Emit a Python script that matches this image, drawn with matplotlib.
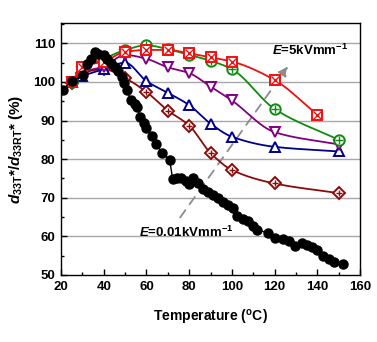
import numpy as np
import matplotlib
matplotlib.use("Agg")
import matplotlib.pyplot as plt
from matplotlib.ticker import MultipleLocator

plt.rcParams['font.family'] = ['Liberation Sans', 'DejaVu Sans']
plt.rcParams['font.weight'] = 'bold'
plt.rcParams['mathtext.fontset'] = 'custom'
plt.rcParams['mathtext.rm'] = 'Liberation Sans:bold'
plt.rcParams['mathtext.it'] = 'Liberation Sans:italic:bold'
plt.rcParams['mathtext.bf'] = 'Liberation Sans:bold'

# poling field 0.01 kV/mm, dense measurement
t_low = [20.8, 25.0, 30.4, 32.2, 33.8, 35.8, 37.5, 40.0, 41.7, 43.3, 45.3, 46.6,
         48.5, 49.5, 50.8, 52.8, 54.5, 55.6, 57.1, 58.6, 60.0, 62.6, 64.3, 67.3,
         70.8, 72.3, 74.2, 76.3, 78.5, 80.0, 82.0, 84.2, 86.4, 88.7, 91.2, 93.5,
         95.8, 98.2, 100.3, 102.6, 105.0, 107.4, 109.8, 111.6, 117.1, 120.2,
         124.1, 126.9, 129.6, 132.7, 135.0, 137.4, 139.8, 142.8, 145.3, 147.9,
         152.2]
d_low = [98.0, 100.2, 101.8, 104.6, 106.0, 107.8, 107.2, 107.0, 106.0, 104.9,
         104.0, 102.9, 101.3, 99.8, 97.8, 95.2, 94.3, 93.5, 91.0, 89.3, 88.0,
         86.1, 84.0, 81.7, 79.9, 74.8, 75.0, 75.2, 74.3, 73.6, 75.2, 73.8, 72.4,
         71.5, 70.7, 69.9, 69.0, 68.2, 67.3, 65.2, 64.6, 64.0, 62.7, 61.7, 60.9,
         59.7, 59.4, 58.8, 57.6, 58.4, 57.8, 57.2, 56.5, 54.8, 54.1, 53.4, 52.8]

# higher fields, sparse measurement
t_a = [25, 30, 40, 50, 60, 70, 80, 90, 100, 120, 150]
d_brown = [99.8, 102.3, 103.3, 101.0, 97.4, 92.6, 88.7, 81.6, 77.2, 73.7, 71.2]
d_blue = [100.0, 101.5, 103.3, 105.0, 100.2, 97.2, 94.0, 89.2, 85.8, 83.2, 82.0]
d_purple = [100.0, 102.5, 104.0, 107.0, 106.0, 103.8, 102.3, 98.8, 95.2, 87.0, 83.8]
d_green = [100.0, 103.5, 106.0, 108.3, 109.5, 108.5, 107.0, 105.5, 103.3, 93.0, 85.0]
t_red = [25, 30, 40, 50, 60, 70, 80, 90, 100, 120, 140]
d_red = [100.0, 104.0, 105.3, 107.8, 108.3, 108.3, 107.4, 106.4, 105.3, 100.5, 91.5]


def smooth(x, y, n=300):
    # cubic hermite through the points, slopes from neighbours
    x = np.asarray(x, float)
    y = np.asarray(y, float)
    h = np.diff(x)
    s = np.diff(y) / h
    m = np.empty_like(y)
    m[0], m[-1] = s[0], s[-1]
    for i in range(1, len(x) - 1):
        if s[i - 1] * s[i] <= 0:
            m[i] = 0.0
        else:
            w1 = 2 * h[i] + h[i - 1]
            w2 = h[i] + 2 * h[i - 1]
            m[i] = (w1 + w2) / (w1 / s[i - 1] + w2 / s[i])
    xs = np.linspace(x[0], x[-1], n)
    k = np.clip(np.searchsorted(x, xs) - 1, 0, len(x) - 2)
    t = (xs - x[k]) / h[k]
    h00 = 2 * t**3 - 3 * t**2 + 1
    h10 = t**3 - 2 * t**2 + t
    h01 = -2 * t**3 + 3 * t**2
    h11 = t**3 - t**2
    ys = h00 * y[k] + h10 * h[k] * m[k] + h01 * y[k + 1] + h11 * h[k] * m[k + 1]
    return xs, ys


fig = plt.figure(figsize=(3.77, 3.42), dpi=100)
ax = fig.add_axes([0.162, 0.196, 0.793, 0.737])

ax.set_xlim(20, 160)
ax.set_ylim(50, 115.3)
for g in range(60, 111, 10):
    ax.axhline(g, color='#a8a8a8', lw=1.0, zorder=0)

series = [
    (t_a, d_brown, '#8b0a0a', 'D', '+', 6.5),
    (t_a, d_blue, '#00008b', '^', None, 7.5),
    (t_a, d_purple, '#800080', 'v', None, 7.5),
    (t_a, d_green, '#108a10', 'o', '+', 7.5),
    (t_red, d_red, '#f01010', 's', 'x', 7),
]
for i, (x, y, c, mk, inner, ms) in enumerate(series):
    xs, ys = smooth(x, y)
    ax.plot(xs, ys, color=c, lw=1.3, zorder=2 + i)
    ax.plot(x, y, ls='none', marker=mk, ms=ms, mfc='white', mec=c,
            mew=1.4, zorder=2.5 + i)
    if inner:
        ax.plot(x, y, ls='none', marker=inner, ms=ms * 0.75, mec=c,
                mew=1.0, zorder=2.6 + i)

ax.plot(t_low, d_low, color='black', lw=1.0, marker='o', ms=6.5,
        mfc='black', mec='black', zorder=10)

# field direction arrow
ax.annotate('', xy=(127, 104.6), xytext=(75, 64.3),
            arrowprops=dict(arrowstyle='-|>', color='#8c8c8c', lw=1.3,
                            ls=(0, (5, 4)), mutation_scale=14), zorder=1.5)
ax.text(56.5, 61.0, r'$E$=0.01kVmm$^{-1}$', fontsize=9.5, fontweight='bold',
        va='center', ha='left', zorder=11)
ax.text(119.0, 108.2, r'$E$=5kVmm$^{-1}$', fontsize=9.5, fontweight='bold',
        va='center', ha='left', zorder=11)

ax.xaxis.set_major_locator(MultipleLocator(20))
ax.xaxis.set_minor_locator(MultipleLocator(10))
ax.yaxis.set_major_locator(MultipleLocator(10))
ax.yaxis.set_minor_locator(MultipleLocator(5))
ax.tick_params(which='both', direction='in', top=False, right=False,
               labelsize=9.5, width=1.0)
ax.tick_params(which='major', length=4, pad=4)
ax.tick_params(which='minor', length=2.5)
for lab in ax.get_xticklabels() + ax.get_yticklabels():
    lab.set_fontweight('bold')
for sp in ax.spines.values():
    sp.set_linewidth(1.0)

ax.set_xlabel(r'Temperature ($^{\rm o}$C)', fontsize=10, fontweight='bold',
              labelpad=11)
ax.set_ylabel(r'$d_{\rm 33T}$*/$d_{\rm 33RT}$* (%)', fontsize=11,
              fontweight='bold', labelpad=6)

fig.savefig('out.png', dpi=100)
